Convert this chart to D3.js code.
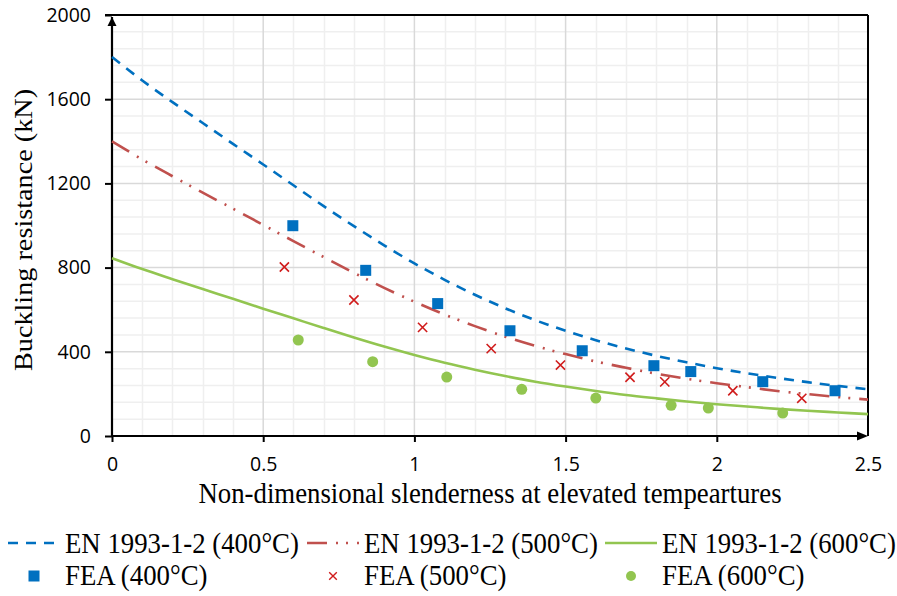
<!DOCTYPE html>
<html>
<head>
<meta charset="utf-8">
<script src="https://cdn.jsdelivr.net/npm/d3@7"></script>
<style>
  body { margin: 0; background: #fff; }
  svg { display: block; }
</style>
</head>
<body>
<div id="vis"></div>
<script>
// slenderness grid for the EN 1993-1-2 curves
var lambdas = [0, 0.1, 0.2, 0.3, 0.4, 0.5, 0.6, 0.7, 0.8, 0.9, 1.0, 1.1, 1.2,
    1.3, 1.4, 1.5, 1.6, 1.7, 1.8, 1.9, 2.0, 2.1, 2.2, 2.3, 2.4, 2.5];

var en400 = [1800, 1689, 1586, 1487, 1388, 1290, 1191, 1092, 997, 906, 820, 742, 671,
    607, 550, 500, 455, 416, 381, 350, 322, 298, 276, 256, 238, 222];
var en500 = [1400, 1314, 1234, 1156, 1080, 1003, 926, 850, 775, 704, 638, 577, 522,
    472, 428, 389, 354, 324, 296, 272, 251, 232, 214, 199, 185, 173];
var en600 = [845, 793, 745, 698, 652, 605, 559, 513, 468, 425, 385, 348, 315,
    285, 258, 235, 214, 195, 179, 164, 151, 140, 129, 120, 112, 104];

// FEA results
var fea400x = [0.598, 0.839, 1.077, 1.316, 1.555, 1.792, 1.914, 2.152, 2.391];
var fea400y = [999, 787, 629, 500, 405, 334, 306, 258, 215];
var fea500x = [0.570, 0.800, 1.027, 1.254, 1.483, 1.713, 1.828, 2.053, 2.281];
var fea500y = [803, 646, 516, 415, 337, 279, 257, 215, 179];
var fea600x = [0.616, 0.862, 1.107, 1.355, 1.600, 1.849, 1.972, 2.218];
var fea600y = [456, 353, 280, 222, 180, 146, 133, 109];

var xTicks = [0, 0.5, 1, 1.5, 2, 2.5];
var yTicks = [0, 400, 800, 1200, 1600, 2000];

var lineLabels = ['EN 1993-1-2 (400\u00B0C)', 'EN 1993-1-2 (500\u00B0C)', 'EN 1993-1-2 (600\u00B0C)'];
var feaLabels = ['FEA (400\u00B0C)', 'FEA (500\u00B0C)', 'FEA (600\u00B0C)'];

var blue = '#0070c0', redLine = '#c0504d', redMark = '#d01c1c', green = '#92c550';

var W = 897, H = 596;
var margin = { top: 15, right: 29, bottom: 160, left: 112 };
var width = W - margin.left - margin.right;
var height = H - margin.top - margin.bottom;

var svg = d3.select('#vis').append('svg')
    .attr('width', W)
    .attr('height', H);

var g = svg.append('g')
    .attr('transform', 'translate(' + margin.left + ',' + margin.top + ')');

var x = d3.scaleLinear().domain([0, 2.5]).range([0, width]);
var y = d3.scaleLinear().domain([0, 2000]).range([height, 0]);

// minor grid
g.append('g').selectAll('line')
    .data(d3.range(1, 25).filter(function (i) { return i % 5 != 0; }))
    .enter().append('line')
    .attr('x1', function (i) { return Math.round(x(i / 10)) + 0.5; })
    .attr('x2', function (i) { return Math.round(x(i / 10)) + 0.5; })
    .attr('y1', 0).attr('y2', height)
    .attr('stroke', '#efefef').attr('stroke-width', 1.5);

g.append('g').selectAll('line')
    .data(d3.range(80, 2000, 80).filter(function (v) { return v % 400 != 0; }))
    .enter().append('line')
    .attr('y1', function (v) { return y(v); })
    .attr('y2', function (v) { return y(v); })
    .attr('x1', 0).attr('x2', width)
    .attr('stroke', '#efefef').attr('stroke-width', 1.5);

// major grid
g.append('g').selectAll('line')
    .data([0.5, 1, 1.5, 2])
    .enter().append('line')
    .attr('x1', function (d) { return x(d); })
    .attr('x2', function (d) { return x(d); })
    .attr('y1', 0).attr('y2', height)
    .attr('stroke', '#d9d9d9').attr('stroke-width', 1.5);

g.append('g').selectAll('line')
    .data([400, 800, 1200, 1600])
    .enter().append('line')
    .attr('y1', function (d) { return y(d); })
    .attr('y2', function (d) { return y(d); })
    .attr('x1', 0).attr('x2', width)
    .attr('stroke', '#d9d9d9').attr('stroke-width', 1.5);

// frame: top and right
g.append('line').attr('x1', -7).attr('x2', width).attr('y1', 0).attr('y2', 0)
    .attr('stroke', '#000').attr('stroke-width', 2);
g.append('line').attr('x1', width).attr('x2', width).attr('y1', 0).attr('y2', height)
    .attr('stroke', '#000').attr('stroke-width', 2);

// axes
var y_axis = d3.axisLeft(y).tickValues(yTicks).tickSize(7).tickPadding(14)
    .tickFormat(d3.format('d'));
var x_axis = d3.axisBottom(x).tickValues(xTicks).tickSize(6).tickPadding(15)
    .tickFormat(function (d) { return String(d); });

var ya = g.append('g').call(y_axis);
var xa = g.append('g').attr('transform', 'translate(0,' + height + ')').call(x_axis);

[ya, xa].forEach(function (a) {
    a.select('.domain').remove();
    a.selectAll('.tick line').attr('stroke', '#000').attr('stroke-width', 2);
    a.selectAll('.tick text')
        .attr('font-family', '"Open Sans", sans-serif')
        .attr('font-size', 19.5)
        .attr('fill', '#000');
});
xa.selectAll('.tick line').filter(function (d) { return d == 2.5; }).remove();

g.append('line').attr('x1', 0).attr('x2', 0).attr('y1', 2).attr('y2', height + 1)
    .attr('stroke', '#000').attr('stroke-width', 2.2);
g.append('line').attr('x1', -1).attr('x2', width - 6).attr('y1', height).attr('y2', height)
    .attr('stroke', '#000').attr('stroke-width', 2.2);

// arrow heads
g.append('path').attr('d', 'M0,2 L-4.5,11 L4.5,11 Z').attr('fill', '#000');
g.append('path').attr('d', 'M' + width + ',' + height + ' l-11,-4.5 l0,9 Z').attr('fill', '#000');

// curves
var line = d3.line()
    .x(function (d, i) { return x(lambdas[i]); })
    .y(function (d) { return y(d); })
    .curve(d3.curveMonotoneX);

g.append('path').datum(en400).attr('d', line)
    .attr('fill', 'none').attr('stroke', blue).attr('stroke-width', 2.6)
    .attr('stroke-dasharray', '10,8');
g.append('path').datum(en500).attr('d', line)
    .attr('fill', 'none').attr('stroke', redLine).attr('stroke-width', 2.6)
    .attr('stroke-dasharray', '20,9,2,8,2,9');
g.append('path').datum(en600).attr('d', line)
    .attr('fill', 'none').attr('stroke', green).attr('stroke-width', 2.6);

// FEA markers
g.append('g').selectAll('rect')
    .data(fea400x)
    .enter().append('rect')
    .attr('x', function (d) { return x(d) - 5.5; })
    .attr('y', function (d, i) { return y(fea400y[i]) - 5.5; })
    .attr('width', 11).attr('height', 11)
    .attr('fill', blue);

g.append('g').selectAll('path')
    .data(fea500x)
    .enter().append('path')
    .attr('d', function (d, i) {
        var cx = x(d), cy = y(fea500y[i]), r = 4.6;
        return 'M' + (cx - r) + ',' + (cy - r) + 'L' + (cx + r) + ',' + (cy + r) +
            'M' + (cx - r) + ',' + (cy + r) + 'L' + (cx + r) + ',' + (cy - r);
    })
    .attr('stroke', redMark).attr('stroke-width', 1.6).attr('fill', 'none');

g.append('g').selectAll('circle')
    .data(fea600x)
    .enter().append('circle')
    .attr('cx', function (d) { return x(d); })
    .attr('cy', function (d, i) { return y(fea600y[i]); })
    .attr('r', 5.5)
    .attr('fill', green);

// titles
var serif = '"Liberation Serif", "Times New Roman", serif';
var sy = 1.12;

svg.append('text')
    .attr('transform', 'translate(490,503) scale(1,' + sy + ')')
    .attr('text-anchor', 'middle')
    .attr('font-family', serif).attr('font-size', 26.8)
    .text('Non-dimensional slenderness at elevated tempeartures');

svg.append('text')
    .attr('transform', 'translate(32,230) rotate(-90) scale(' + sy + ',1)')
    .attr('text-anchor', 'middle')
    .attr('font-family', serif).attr('font-size', 25.2)
    .text('Buckling resistance (kN)');

// legend
var legX = [8, 307, 605];
var dashes = ['10,8', '20,9,2,8,2,9', null];
var lcols = [blue, redLine, green];

lineLabels.forEach(function (lab, i) {
    var x0 = legX[i];
    var ln = svg.append('line')
        .attr('x1', x0).attr('x2', x0 + 52)
        .attr('y1', 543).attr('y2', 543)
        .attr('stroke', lcols[i]).attr('stroke-width', 2.6);
    if (dashes[i]) ln.attr('stroke-dasharray', dashes[i]);
    svg.append('text')
        .attr('transform', 'translate(' + (x0 + 57) + ',553) scale(1,' + sy + ')')
        .attr('font-family', serif).attr('font-size', 26.8)
        .text(lab);
});

feaLabels.forEach(function (lab, i) {
    var x0 = legX[i], cx = x0 + 26, cy = 576;
    if (i == 0) {
        svg.append('rect').attr('x', cx - 5.5).attr('y', cy - 5.5)
            .attr('width', 11).attr('height', 11).attr('fill', blue);
    } else if (i == 1) {
        var r = 3.8;
        svg.append('path')
            .attr('d', 'M' + (cx - r) + ',' + (cy - r) + 'L' + (cx + r) + ',' + (cy + r) +
                'M' + (cx - r) + ',' + (cy + r) + 'L' + (cx + r) + ',' + (cy - r))
            .attr('stroke', redMark).attr('stroke-width', 1.4);
    } else {
        svg.append('circle').attr('cx', cx).attr('cy', cy).attr('r', 5).attr('fill', green);
    }
    svg.append('text')
        .attr('transform', 'translate(' + (x0 + 57) + ',585) scale(1,' + sy + ')')
        .attr('font-family', serif).attr('font-size', 26.8)
        .text(lab);
});
</script>
</body>
</html>
